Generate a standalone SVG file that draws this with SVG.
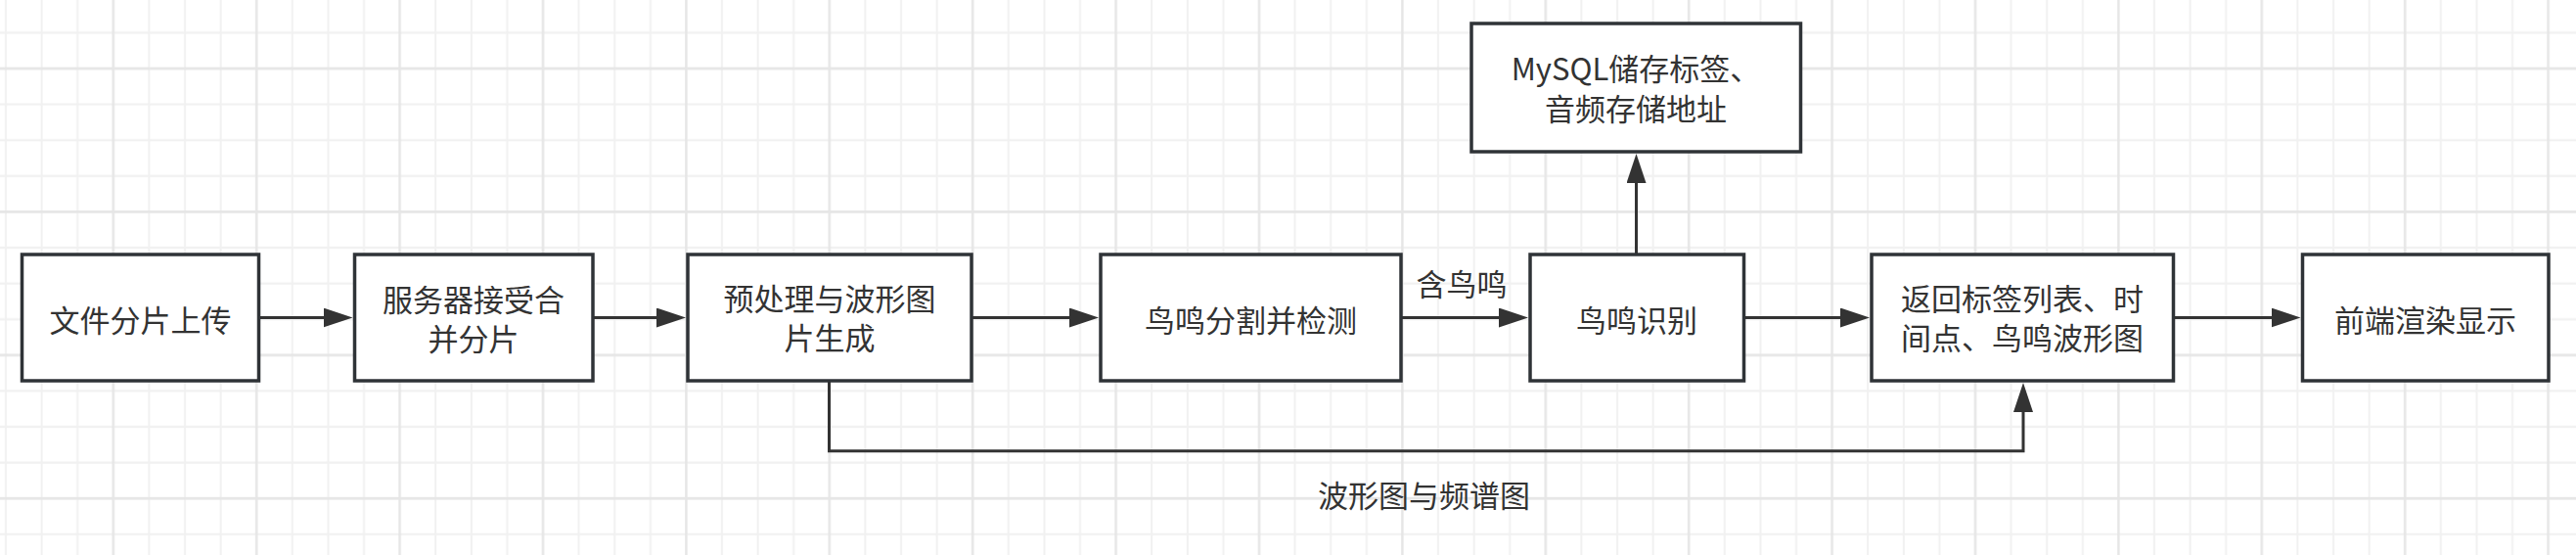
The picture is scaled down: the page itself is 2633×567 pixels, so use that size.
<svg xmlns="http://www.w3.org/2000/svg" width="2633" height="567" viewBox="0 0 2633 567">
  <defs>
    <style>
      .box { fill: #ffffff; stroke: #2f3337; stroke-width: 3.5; }
      .t { font-family: "Noto Sans CJK SC", "Liberation Sans", sans-serif; font-size: 31px; fill: #333333; text-anchor: middle; }
      .edge { fill: none; stroke: #333333; stroke-width: 3; }
    </style>
    <pattern id="grid" x="97.5" y="51.7" width="146.4" height="146.4" patternUnits="userSpaceOnUse">
      <path d="M54.9 0V146.4M91.5 0V146.4M128.1 0V146.4M0 54.9H146.4M0 91.5H146.4M0 128.1H146.4" stroke="#f1f1f1" stroke-width="2" fill="none"/>
      <path d="M18.3 0V146.4M0 18.3H146.4" stroke="#e6e6e6" stroke-width="2.5" fill="none"/>
    </pattern>
    <marker id="arrow" markerUnits="userSpaceOnUse" markerWidth="30" markerHeight="20" refX="4" refY="10" orient="auto">
      <path d="M0,0 L30,10 L0,20 Z" fill="#333333"/>
    </marker>
  </defs>

  <rect x="0" y="0" width="2633" height="567" fill="#ffffff"/>
  <rect x="0" y="0" width="2633" height="567" fill="url(#grid)"/>

  <g id="connectors">
    <path class="edge" d="M264.3 324.5H334.5" marker-end="url(#arrow)"/>
    <path class="edge" d="M606 324.5H675" marker-end="url(#arrow)"/>
    <path class="edge" d="M993 324.5H1097" marker-end="url(#arrow)"/>
    <path class="edge" d="M1432 324.5H1536" marker-end="url(#arrow)"/>
    <path class="edge" d="M1782.5 324.5H1885" marker-end="url(#arrow)"/>
    <path class="edge" d="M2221.5 324.5H2325.5" marker-end="url(#arrow)"/>
    <path class="edge" d="M1672.5 260V183" marker-end="url(#arrow)"/>
    <path class="edge" d="M847.5 389V460.7H2068V417" marker-end="url(#arrow)"/>
    <text class="t" x="1494" y="302">含鸟鸣</text>
    <text class="t" x="1455.5" y="518">波形图与频谱图</text>
  </g>

  <g id="n1">
    <rect class="box" x="22.5" y="260" width="242" height="129"/>
    <text class="t" x="143.5" y="338.5">文件分片上传</text>
  </g>
  <g id="n2">
    <rect class="box" x="362.5" y="260" width="243.5" height="129"/>
    <text class="t" x="484" y="317.5"><tspan x="484">服务器接受合</tspan><tspan x="484" dy="40">并分片</tspan></text>
  </g>
  <g id="n3">
    <rect class="box" x="703" y="260" width="290" height="129"/>
    <text class="t" x="848" y="317"><tspan x="848">预处理与波形图</tspan><tspan x="848" dy="40">片生成</tspan></text>
  </g>
  <g id="n4">
    <rect class="box" x="1125" y="260" width="307" height="129"/>
    <text class="t" x="1278.5" y="338.5">鸟鸣分割并检测</text>
  </g>
  <g id="n5">
    <rect class="box" x="1564" y="260" width="218.5" height="129"/>
    <text class="t" x="1673" y="338.5">鸟鸣识别</text>
  </g>
  <g id="n6">
    <rect class="box" x="1913" y="260" width="308.5" height="129"/>
    <text class="t" x="2067" y="317"><tspan x="2067">返回标签列表、时</tspan><tspan x="2067" dy="40">间点、鸟鸣波形图</tspan></text>
  </g>
  <g id="n7">
    <rect class="box" x="2353.5" y="260" width="251.5" height="129"/>
    <text class="t" x="2479" y="338.5">前端渲染显示</text>
  </g>
  <g id="n8">
    <rect class="box" x="1504" y="24" width="336.5" height="131"/>
    <text class="t" x="1672" y="82"><tspan x="1672">MySQL储存标签、</tspan><tspan x="1672" dy="40.5">音频存储地址</tspan></text>
  </g>
</svg>
